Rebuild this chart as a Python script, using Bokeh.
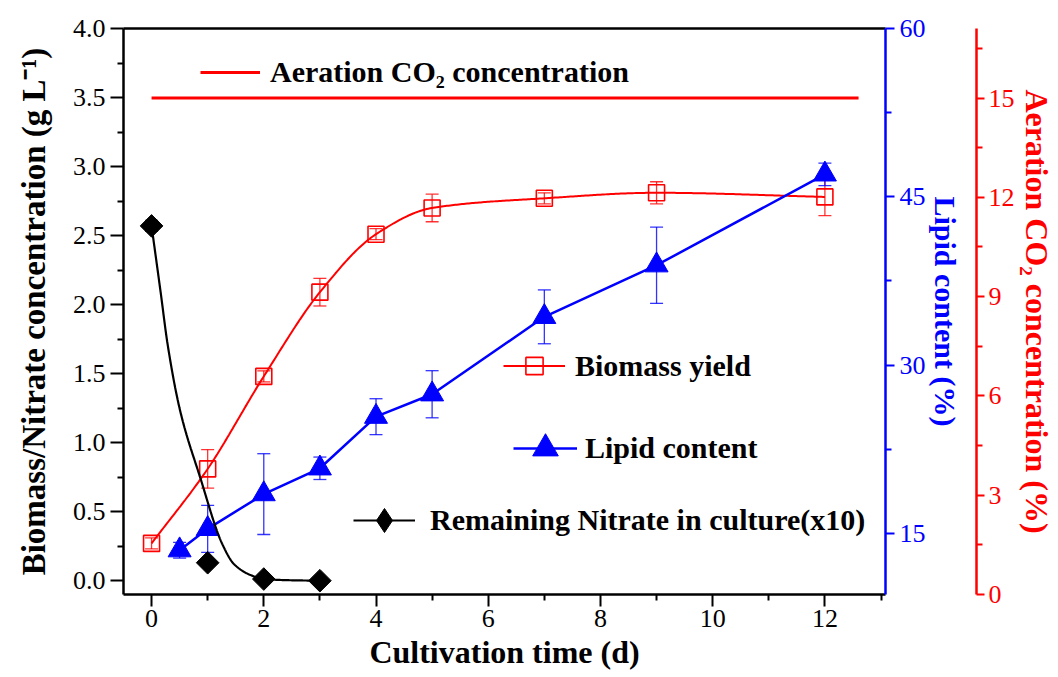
import numpy as np
from bokeh.plotting import figure
from bokeh.models import (Range1d, LinearAxis, Whisker, ColumnDataSource, Legend,
                          LegendItem, FixedTicker, TeeHead, PrintfTickFormatter)
from bokeh.embed import file_html
from bokeh.resources import INLINE

# ---------------- data ----------------
time_biomass = [0, 1, 2, 3, 4, 5, 7, 9, 12]
biomass = [0.27, 0.81, 1.48, 2.09, 2.51, 2.70, 2.77, 2.81, 2.78]
biomass_err = [0.04, 0.14, 0.04, 0.10, 0.04, 0.10, 0.04, 0.08, 0.135]

time_lipid = [0.5, 1, 2, 3, 4, 5, 7, 9, 12]
lipid = [13.5, 15.4, 18.5, 20.8, 25.4, 27.4, 34.3, 38.9, 47.0]
lipid_err = [0.7, 2.1, 3.6, 1.0, 1.6, 2.1, 2.4, 3.4, 1.0]

time_nitrate = [0, 1, 2, 3]
nitrate = [2.57, 0.13, 0.012, 0.0]
nitrate_err = [0.04, 0.0, 0.0, 0.0]

# points read along the smoothed nitrate curve drawn in the figure
nitrate_curve_x = [0, 0.165, 0.285, 0.51, 0.865, 1.26, 1.47, 1.77, 2.0, 2.5, 3.0]
nitrate_curve_y = [2.57, 2.08, 1.715, 1.23, 0.75, 0.266, 0.12, 0.04, 0.012, 0.003, 0.0]

co2_time = [0, 12.6]
co2_level = [15, 15]

x_ticks = [0, 2, 4, 6, 8, 10, 12]
left_ticks = [0, 0.5, 1.0, 1.5, 2.0, 2.5, 3.0, 3.5, 4.0]
lipid_ticks = [15, 30, 45, 60]
co2_ticks = [0, 3, 6, 9, 12, 15]

FONT = "Liberation Serif"
TICK_FONT = "Liberation Serif, Times New Roman, serif"


def pchip(x, y, n=400):
    x = np.asarray(x, float)
    y = np.asarray(y, float)
    h = np.diff(x)
    d = np.diff(y) / h
    m = np.zeros_like(y)
    m[0] = d[0]
    m[-1] = d[-1]
    for k in range(1, len(x) - 1):
        if d[k - 1] * d[k] <= 0:
            m[k] = 0.0
        else:
            w1 = 2 * h[k] + h[k - 1]
            w2 = h[k] + 2 * h[k - 1]
            m[k] = (w1 + w2) / (w1 / d[k - 1] + w2 / d[k])
    xs = np.linspace(x[0], x[-1], n)
    ys = np.empty_like(xs)
    for i, xv in enumerate(xs):
        k = min(np.searchsorted(x, xv, side="right") - 1, len(x) - 2)
        t = (xv - x[k]) / h[k]
        h00 = 2 * t**3 - 3 * t**2 + 1
        h10 = t**3 - 2 * t**2 + t
        h01 = -2 * t**3 + 3 * t**2
        h11 = t**3 - t**2
        ys[i] = h00 * y[k] + h10 * h[k] * m[k] + h01 * y[k + 1] + h11 * h[k] * m[k + 1]
    return xs, ys


p = figure(width=1058, height=677, x_range=Range1d(-0.5, 13.08), y_range=Range1d(-0.1, 4.0),
           output_backend="svg", toolbar_location=None,
           min_border_left=123, min_border_right=173, min_border_top=28, min_border_bottom=83)
p.extra_y_ranges = {"lipid": Range1d(9.55, 60), "co2": Range1d(0, 17.1)}
p.grid.visible = False
p.outline_line_color = None
p.background_fill_color = "white"
p.border_fill_color = "white"


def style_axis(ax, color, ticks, minors, tick_out, minor_out, label_size="26px", title_size="32px"):
    ax.ticker = FixedTicker(ticks=ticks, minor_ticks=minors)
    ax.axis_line_color = color
    ax.axis_line_width = 2.5
    ax.major_tick_line_color = color
    ax.minor_tick_line_color = color
    ax.major_tick_line_width = 2
    ax.minor_tick_line_width = 2
    ax.major_tick_in = 0
    ax.minor_tick_in = 0
    ax.major_tick_out = tick_out
    ax.minor_tick_out = minor_out
    ax.major_label_text_font = TICK_FONT
    ax.major_label_text_font_style = "normal"
    ax.major_label_text_font_size = label_size
    ax.major_label_text_color = color
    ax.axis_label_text_font = FONT
    ax.axis_label_text_font_style = "bold"
    ax.axis_label_text_font_size = title_size
    ax.axis_label_text_color = color


xa = p.xaxis[0]
style_axis(xa, "black", x_ticks, [1, 3, 5, 7, 9, 11, 13], 12, 6)
xa.axis_label = "Cultivation time (d)"
xa.major_label_standoff = 3
xa.axis_label_standoff = 4

ya = p.yaxis[0]
style_axis(ya, "black", left_ticks, [0.25, 0.75, 1.25, 1.75, 2.25, 2.75, 3.25, 3.75], 13, 6,
           title_size="33px")
ya.axis_label = "Biomass/Nitrate concentration (g L\u207b\u00b9)"
ya.formatter = PrintfTickFormatter(format="%.1f")
ya.major_label_standoff = 5
ya.axis_label_standoff = 18

top = LinearAxis(ticker=FixedTicker(ticks=[]), axis_line_color="black", axis_line_width=2.5,
                 major_tick_out=0, minor_tick_out=0, major_label_text_font_size="0px")
p.add_layout(top, "above")

blue_ax = LinearAxis(y_range_name="lipid", axis_label="Lipid content (%)")
style_axis(blue_ax, "blue", lipid_ticks, [22.5, 37.5, 52.5], 9, 6, title_size="30px")
blue_ax.major_label_standoff = 5
blue_ax.axis_label_standoff = 0
p.add_layout(blue_ax, "right")

# invisible axis that only adds a gap between the blue and the red axis
spacer = LinearAxis(y_range_name="lipid", ticker=FixedTicker(ticks=[30], minor_ticks=[]),
                    axis_line_color=None, major_tick_out=12, minor_tick_out=0,
                    major_tick_line_color=None, minor_tick_line_color=None,
                    major_label_standoff=0, major_label_text_font_size="2px",
                    major_label_text_alpha=0)
p.add_layout(spacer, "right")

red_ax = LinearAxis(y_range_name="co2", axis_label="Aeration CO\u2082 concentration (%)")
style_axis(red_ax, "red", co2_ticks, [1.5, 4.5, 7.5, 10.5, 13.5, 16.5], 8, 6)
red_ax.major_label_standoff = 4
red_ax.axis_label_standoff = 1
p.add_layout(red_ax, "right")

# ---------------- error bars ----------------
bsrc = ColumnDataSource(dict(x=time_biomass, y=biomass,
                             lo=[v - e for v, e in zip(biomass, biomass_err)],
                             hi=[v + e for v, e in zip(biomass, biomass_err)]))
lsrc = ColumnDataSource(dict(x=time_lipid, y=lipid,
                             lo=[v - e for v, e in zip(lipid, lipid_err)],
                             hi=[v + e for v, e in zip(lipid, lipid_err)]))
nsrc = ColumnDataSource(dict(x=time_nitrate, y=nitrate,
                             lo=[v - e for v, e in zip(nitrate, nitrate_err)],
                             hi=[v + e for v, e in zip(nitrate, nitrate_err)]))


def whisk(src, color, yr="default"):
    w = Whisker(source=src, base="x", lower="lo", upper="hi", line_color=color, line_width=1.3,
                line_alpha=0.8, y_range_name=yr,
                upper_head=TeeHead(size=13, line_color=color, line_width=1.3, line_alpha=0.8),
                lower_head=TeeHead(size=13, line_color=color, line_width=1.3, line_alpha=0.8),
                level="underlay")
    p.add_layout(w)


whisk(bsrc, "red")
whisk(lsrc, "blue", "lipid")
whisk(nsrc, "black")

# ---------------- series ----------------
co2_r = p.line(co2_time, co2_level, y_range_name="co2", line_color="red", line_width=3)

bx, by = pchip(time_biomass, biomass)
bio_line = p.line(bx, by, line_color="red", line_width=2)
bio_pts = p.scatter("x", "y", source=bsrc, marker="square", size=16, fill_color=None,
                    line_color="red", line_width=1.6)

lip_line = p.line(time_lipid, lipid, y_range_name="lipid", line_color="blue", line_width=2.5)
lip_pts = p.scatter("x", "y", source=lsrc, y_range_name="lipid", marker="triangle", size=23,
                    fill_color="blue", line_color="blue")

nx, ny = pchip(nitrate_curve_x, nitrate_curve_y)
nit_line = p.line(nx, ny, line_color="black", line_width=2.2)
nit_pts = p.scatter("x", "y", source=nsrc, marker="square", angle=np.pi / 4, size=16,
                    fill_color="black", line_color="black")
# hidden renderer that only supplies the diamond symbol for the legend key
nit_key = p.scatter("x", "y", source=nsrc, marker="diamond", fill_color="black",
                    line_color="black", visible=False)

# ---------------- legends ----------------


def add_legend(label, renderers, loc, gw, gh, standoff):
    lg = Legend(items=[LegendItem(label=label, renderers=renderers)], location=loc,
                glyph_width=gw, glyph_height=gh, label_standoff=standoff,
                padding=0, margin=0, spacing=0, border_line_color=None,
                background_fill_alpha=0, label_text_font=FONT, label_text_font_style="bold",
                label_text_font_size="30px", label_text_color="black",
                inactive_fill_alpha=0)
    p.add_layout(lg)


add_legend("Aeration CO\u2082 concentration", [co2_r], (77, 505), 60, 34, 10)
add_legend("Biomass yield", [bio_line, bio_pts], (380, 207), 62, 43, 10)
add_legend("Lipid content", [lip_line, lip_pts], (390, 114), 64, 64, 8)
add_legend("Remaining Nitrate in culture(x10)", [nit_line, nit_key], (230, 44), 62, 60, 15)

open("out.html", "w").write(file_html(p, INLINE))
